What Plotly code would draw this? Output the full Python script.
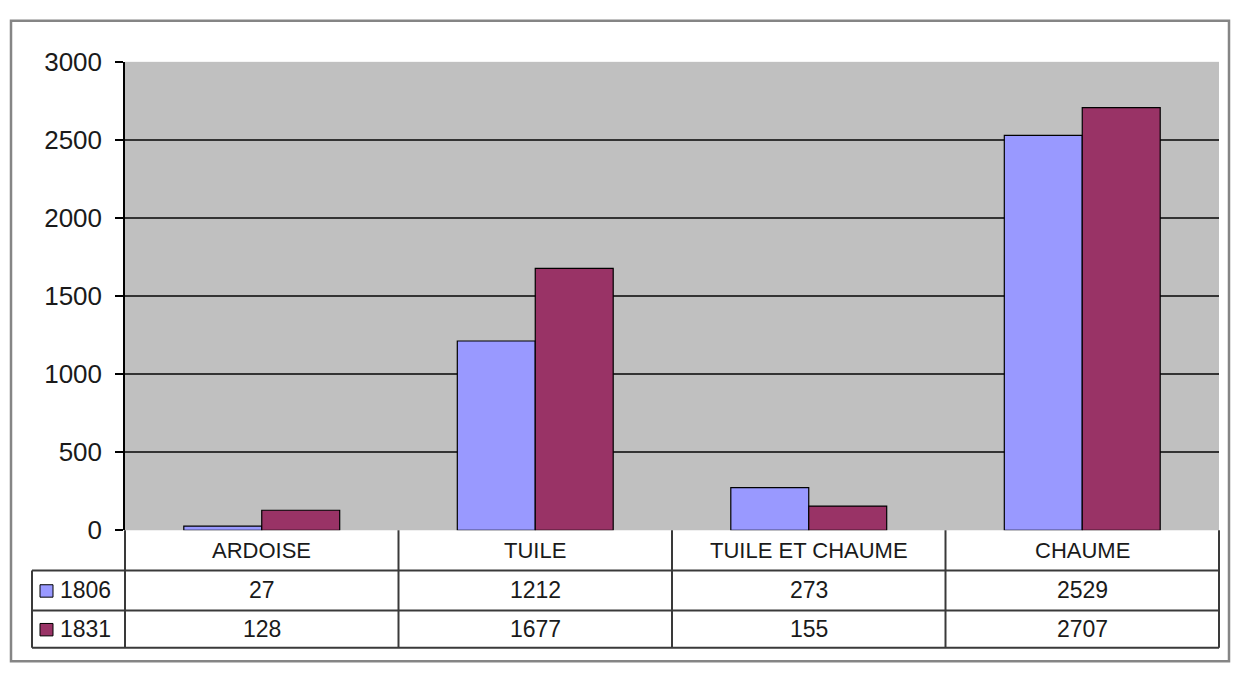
import plotly.graph_objects as go

categories = ["ARDOISE", "TUILE", "TUILE ET CHAUME", "CHAUME"]
series_names = ["1806", "1831"]
values_1806 = [27, 1212, 273, 2529]
values_1831 = [128, 1677, 155, 2707]
colors = ["#9999FF", "#993366"]
y_ticks = [0, 500, 1000, 1500, 2000, 2500, 3000]

W, H = 1234, 681
# plot area in pixels (reference image coordinates)
X0, X1 = 125, 1219
Y0, Y1 = 49, 539
# data table rows (pixels)
ROW_HDR = (539, 581)
ROW_A = (581, 623)
ROW_B = (623, 662)
LEG_X = 32


def px(x):
    return x / W


def py(y):
    return 1 - y / H


FONT = "Liberation Sans, Arial, sans-serif"
TXT = "#1a1a1a"
LINE = "#3a3a3a"

fig = go.Figure()
for name, vals, col in zip(series_names, [values_1806, values_1831], colors):
    fig.add_trace(go.Bar(
        x=categories, y=vals, name=name,
        marker=dict(color=col, line=dict(color="#000000", width=1.2)),
        showlegend=False, hoverinfo="x+y+name",
    ))

shapes = []
annotations = []

# outer chart frame
shapes.append(dict(type="rect", xref="paper", yref="paper",
                   x0=px(11), x1=px(1229), y0=py(676), y1=py(6),
                   line=dict(color="#858585", width=2.5), layer="below"))


def hline(y, xa, xb):
    shapes.append(dict(type="line", xref="paper", yref="paper",
                       x0=px(xa), x1=px(xb), y0=py(y), y1=py(y),
                       line=dict(color=LINE, width=2)))


def vline(x, ya, yb):
    shapes.append(dict(type="line", xref="paper", yref="paper",
                       x0=px(x), x1=px(x), y0=py(ya), y1=py(yb),
                       line=dict(color=LINE, width=2)))


n = len(categories)
cw = (X1 - X0) / n
for i in range(n + 1):
    vline(X0 + i * cw, ROW_HDR[0], ROW_B[1])
hline(ROW_A[0], LEG_X, X1)
hline(ROW_B[0], LEG_X, X1)
hline(ROW_B[1], LEG_X, X1)
vline(LEG_X, ROW_A[0], ROW_B[1])

# header labels
for i, c in enumerate(categories):
    annotations.append(dict(xref="paper", yref="paper", xanchor="center", yanchor="middle",
                            x=px(X0 + (i + 0.5) * cw), y=py((ROW_HDR[0] + ROW_HDR[1]) / 2),
                            text=c, showarrow=False,
                            font=dict(family=FONT, size=22, color=TXT)))

# data rows with legend keys
for (r0, r1), name, vals, col in zip([ROW_A, ROW_B], series_names,
                                     [values_1806, values_1831], colors):
    ym = (r0 + r1) / 2
    for i, v in enumerate(vals):
        annotations.append(dict(xref="paper", yref="paper", xanchor="center", yanchor="middle",
                                x=px(X0 + (i + 0.5) * cw), y=py(ym),
                                text=str(v), showarrow=False,
                                font=dict(family=FONT, size=23, color=TXT)))
    shapes.append(dict(type="rect", xref="paper", yref="paper",
                       x0=px(40), x1=px(53), y0=py(ym + 7), y1=py(ym - 6),
                       fillcolor=col, line=dict(color="#000000", width=1)))
    annotations.append(dict(xref="paper", yref="paper", xanchor="left", yanchor="middle",
                            x=px(58), y=py(ym), text=name, showarrow=False,
                            font=dict(family=FONT, size=23, color=TXT)))

fig.update_layout(
    width=W, height=H,
    autosize=False,
    margin=dict(l=0, r=0, t=0, b=0),
    paper_bgcolor="#FFFFFF",
    plot_bgcolor="#C0C0C0",
    barmode="group",
    bargap=0.43,
    bargroupgap=0,
    shapes=shapes,
    annotations=annotations,
    xaxis=dict(domain=[px(X0), px(X1)], showticklabels=False, ticks="",
               showgrid=False, zeroline=False, showline=False, fixedrange=True),
    yaxis=dict(domain=[py(Y1), py(Y0)], range=[0, 3000], tickvals=y_ticks,
               ticks="outside", ticklen=8, tickcolor="#000000", tickwidth=1.5,
               ticklabelstandoff=8,
               showline=True, linecolor="#000000", linewidth=1.5,
               showgrid=True, gridcolor="#333333", gridwidth=1.8,
               zeroline=False, fixedrange=True,
               tickfont=dict(family=FONT, size=26, color=TXT)),
    font=dict(family=FONT),
)

fig.write_html("out.html", config={"displayModeBar": False, "responsive": False},
               post_script="document.body.style.margin='0';document.body.style.overflow='hidden';")
